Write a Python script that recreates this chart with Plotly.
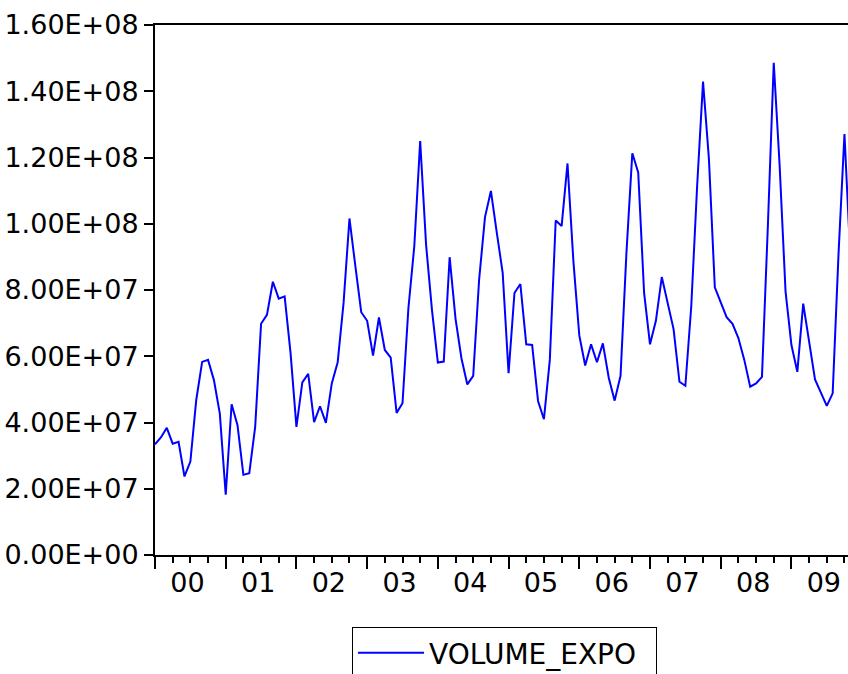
import plotly.graph_objects as go

# Monthly series, Jan 2000 onward (values in millions)
volume_expo_millions = [
    33.4, 35.5, 38.4, 33.6, 34.2, 23.7, 28.2, 46.8, 58.3, 58.9, 52.8, 42.7,
    18.2, 45.5, 39.2, 24.2, 24.7, 38.7, 69.8, 72.5, 82.5, 77.4, 78.1, 61.0,
    38.7, 52.1, 54.7, 40.1, 44.9, 39.9, 51.8, 58.2, 76.1, 101.6, 87.2, 73.3,
    70.7, 60.2, 71.7, 61.9, 59.6, 42.9, 45.8, 74.5, 93.2, 125.0, 93.7, 74.0,
    58.1, 58.4, 89.9, 71.3, 59.4, 51.5, 54.1, 83.1, 102.0, 109.9, 97.3, 85.2,
    54.9, 79.1, 81.8, 63.6, 63.4, 46.5, 41.0, 58.9, 101.0, 99.3, 118.2, 88.7,
    66.3, 57.2, 63.6, 58.2, 63.9, 53.5, 46.6, 54.1, 91.2, 121.3, 115.5, 79.1,
    63.6, 70.7, 83.9, 76.1, 68.2, 52.3, 51.1, 75.0, 111.4, 142.9, 119.5, 80.8,
    76.1, 71.8, 69.8, 65.5, 58.9, 50.8, 51.8, 53.8, 99.3, 148.6, 117.5, 79.6,
    63.4, 55.3, 75.9, 64.4, 53.0, 49.0, 45.0, 48.8, 91.2, 127.1, 89.6,
]
year_labels = ["00", "01", "02", "03", "04", "05", "06", "07", "08", "09"]
y_tick_values = [0, 2e7, 4e7, 6e7, 8e7, 1e8, 1.2e8, 1.4e8, 1.6e8]

values = [v * 1e6 for v in volume_expo_millions]
month_index = list(range(len(values)))
periods = [f"{2000 + i // 12}M{i % 12 + 1:02d}" for i in month_index]

year_starts = [12 * k for k in range(len(year_labels) + 1)]
year_mids = [12 * k + 5.5 for k in range(len(year_labels))]
y_tick_text = [f"{v:.2E}" for v in y_tick_values]

FONT = "DejaVu Sans"
X_RANGE = [0, 117.6]

fig = go.Figure()
fig.add_trace(go.Scatter(
    x=month_index, y=values, mode="lines", name="VOLUME_EXPO",
    text=periods, hovertemplate="%{text}: %{y:.3E}<extra></extra>",
    line=dict(color="#0000FF", width=2),
    showlegend=True,
))
# transparent copy so the year-label axis is laid out
fig.add_trace(go.Scatter(
    x=month_index, y=values, mode="lines", xaxis="x2",
    line=dict(color="rgba(0,0,0,0)", width=0),
    showlegend=False, hoverinfo="skip",
))

fig.update_layout(
    width=848, height=674,
    margin=dict(l=155, r=0, t=25, b=119, autoexpand=False),
    paper_bgcolor="white", plot_bgcolor="white",
    font=dict(family=FONT, size=27, color="black"),
    xaxis=dict(
        range=X_RANGE, showgrid=False, zeroline=False, automargin=False,
        showline=True, linecolor="black", linewidth=2, mirror=True,
        tickmode="array", tickvals=year_starts, ticks="outside",
        ticklen=12, tickwidth=2, tickcolor="black", showticklabels=False,
        minor=dict(tickmode="linear", tick0=0, dtick=3, ticks="outside",
                   ticklen=6, tickwidth=2, tickcolor="black", showgrid=False),
    ),
    xaxis2=dict(
        overlaying="x", anchor="y", side="bottom", automargin=False,
        range=X_RANGE, showgrid=False, zeroline=False, showline=False,
        tickmode="array", tickvals=year_mids, ticktext=year_labels,
        ticks="", ticklabelstandoff=9,
        tickfont=dict(family=FONT, size=27, color="black"),
    ),
    yaxis=dict(
        range=[0, 1.6e8], showgrid=False, zeroline=False, automargin=False,
        showline=True, linecolor="black", linewidth=2,
        tickmode="array", tickvals=y_tick_values, ticktext=y_tick_text,
        ticks="outside", ticklen=9, tickwidth=2, tickcolor="black",
        tickfont=dict(family=FONT, size=27, color="black"),
    ),
    legend=dict(
        orientation="h", x=(352 - 155) / 693, xanchor="left",
        y=-(627 - 555) / 530, yanchor="top",
        bordercolor="black", borderwidth=1, bgcolor="white",
        itemwidth=66, entrywidth=222, entrywidthmode="pixels",
        font=dict(family=FONT, size=28, color="black"),
    ),
)

fig.write_html(
    "out.html",
    config={"displayModeBar": False},
    post_script="document.body.style.margin='0';document.body.style.overflow='hidden';",
)
